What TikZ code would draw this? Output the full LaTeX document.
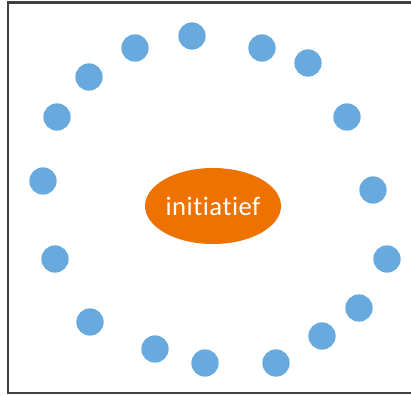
\documentclass[tikz,border=0pt]{standalone}
\usepackage{fontspec}
\setmainfont{Carlito}[Ligatures={NoCommon,NoContextual,NoRare}]
\usepackage{tikz}
\usetikzlibrary{shapes.geometric,positioning}
\definecolor{dotblue}{RGB}{104,170,221}
\definecolor{kernorange}{RGB}{237,114,0}
\definecolor{framegray}{RGB}{64,64,64}

\tikzset{
  person/.style={circle,fill=dotblue,minimum size=20.5pt,inner sep=0pt},
  kern/.style={ellipse,fill=kernorange,minimum width=102pt,minimum height=57pt,
    inner sep=0pt,text=white,font=\fontsize{20}{24}\selectfont\addfontfeatures{LetterSpace=2}}
}

\begin{document}
\begin{tikzpicture}[x=0.75pt,y=-0.75pt]
  \useasboundingbox (0,0) rectangle (411,396);
  \draw[line width=1.5pt,framegray] (7.5,2.5) rectangle (425,392.5);
  % the ring of people
  \foreach \px/\py [count=\i] in {192/36,135/48,262/48,89/77,308/63,57/117,347/117,
      43/181,373/190,55/259,387/259,90/322,359/308,155/349,322/336,205/363,276/363}
    \node[person] (p\i) at (\px,\py) {};
  % the centre
  \node[kern] (init) at (213,206) {initiatief};
\end{tikzpicture}
\end{document}
